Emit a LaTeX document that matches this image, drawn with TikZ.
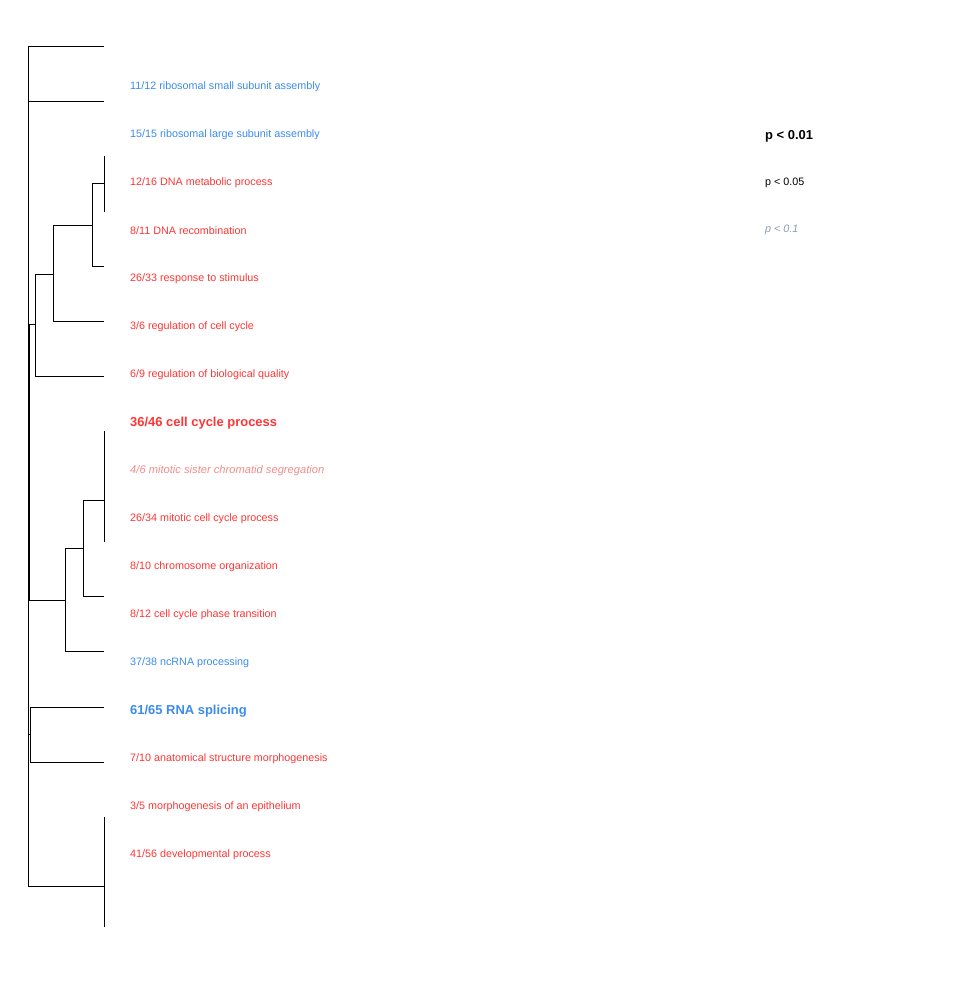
\documentclass[tikz,border=0pt]{standalone}
\usepackage{fontspec}
\setmainfont{Liberation Sans}
\usepackage{tikz}
\usetikzlibrary{positioning}

\definecolor{upblue}{HTML}{3B8BEB}
\definecolor{downred}{HTML}{FF3535}
\definecolor{weakred}{HTML}{F08C8C}
\definecolor{weakgray}{HTML}{8C9BB4}

\tikzset{
  term/.style={anchor=west, inner sep=0pt, font=\fontsize{10.8}{12}\selectfont},
  bigterm/.style={anchor=west, inner sep=0pt, font=\fontsize{13}{15}\selectfont\bfseries},
  weakterm/.style={term, font=\fontsize{11.2}{12}\selectfont\itshape, text=weakred},
  branch/.style={color=black, line width=.9bp}
}

\begin{document}
\begin{tikzpicture}[x=1bp, y=-1bp, node distance=48bp]
\useasboundingbox (0,0) rectangle (958,988);

\node(a)[term, text=upblue] at (130,87) {11/12 ribosomal small subunit assembly};
\node(b)[below=of a.west, term, text=upblue] {15/15 ribosomal large subunit assembly};
\node(c)[below=of b.west, term, text=downred] {12/16 DNA metabolic process};
\node(d)[below=of c.west, term, text=downred] {8/11 DNA recombination};
\node(e)[below=of d.west, term, text=downred] {26/33 response to stimulus};
\node(f)[below=of e.west, term, text=downred] {3/6 regulation of cell cycle};
\node(g)[below=of f.west, term, text=downred] {6/9 regulation of biological quality};
\node(h)[below=of g.west, bigterm, text=downred] {36/46 cell cycle process};
\node(i)[below=of h.west, weakterm] {4/6 mitotic sister chromatid segregation};
\node(j)[below=of i.west, term, text=downred] {26/34 mitotic cell cycle process};
\node(k)[below=of j.west, term, text=downred] {8/10 chromosome organization};
\node(l)[below=of k.west, term, text=downred] {8/12 cell cycle phase transition};
\node(m)[below=of l.west, term, text=upblue] {37/38 ncRNA processing};
\node(n)[below=of m.west, bigterm, text=upblue] {61/65 RNA splicing};
\node(o)[below=of n.west, term, text=downred] {7/10 anatomical structure morphogenesis};
\node(p)[below=of o.west, term, text=downred] {3/5 morphogenesis of an epithelium};
\node(q)[below=of p.west, term, text=downred] {41/56 developmental process};

\node(P1)[bigterm, text=black] at (765,136) {p < 0.01};
\node(P2)[below=of P1.west, yshift=1bp, term, text=black] {p < 0.05};
\node(P3)[below=of P2.west, yshift=1bp, term, font=\fontsize{10.8}{12}\selectfont\itshape, text=weakgray] {p < 0.1};

\coordinate(l1) at (104,46);
\coordinate(l2) at (104,101);
\coordinate(l3a) at (104,156);
\coordinate(l3) at (104,183);
\coordinate(l3b) at (104,212);
\coordinate(l4) at (104,266);
\coordinate(l5) at (104,321);
\coordinate(l6) at (104,376);
\coordinate(l7a) at (104,431);
\coordinate(l7) at (104,500);
\coordinate(l7b) at (104,542);
\coordinate(l8) at (104,596);
\coordinate(l9) at (104,651);
\coordinate(l10) at (104,707);
\coordinate(l11) at (104,762);
\coordinate(l12a) at (104,817);
\coordinate(l12) at (104,886);
\coordinate(l12b) at (104,927);

\coordinate(root) at (28,46);
\coordinate(rootend) at (28,886);
\coordinate(j1) at (92,183);
\coordinate(j2) at (53,225);
\coordinate(j3) at (35,274);
\coordinate(j4) at (29.5,324);
\coordinate(j4m) at (29.5,462);
\coordinate(j4e) at (29.5,600);
\coordinate(j5) at (83,500);
\coordinate(j6) at (65,548);
\coordinate(j7) at (30.5,707);
\coordinate(j7m) at (30.5,734);

\draw[branch] (l1)--(root)--(rootend)--(l12);
\draw[branch] (root |- l2)--(l2);
\draw[branch] (l3a)--(l3b);
\draw[branch] (l7a)--(l7b);
\draw[branch] (l12a)--(l12b);

\draw[branch] (l3)--(j1) |- (l4);
\draw[branch] (j2)--(j1 |- j2);
\draw[branch] (j2) |- (l5);
\draw[branch] (j3)--(j2 |- j3);
\draw[branch] (j3) |- (l6);
\draw[branch] (j4)--(j3 |- j4);
\draw[branch] (j4)--(j4e)--(j6 |- j4e);
\draw[branch] (root |- j4m)--(j4m);

\draw[branch] (l7)--(j5) |- (l8);
\draw[branch] (j6)--(j5 |- j6);
\draw[branch] (j6) |- (l9);

\draw[branch] (l10)--(j7) |- (l11);
\draw[branch] (root |- j7m)--(j7m);
\end{tikzpicture}
\end{document}
